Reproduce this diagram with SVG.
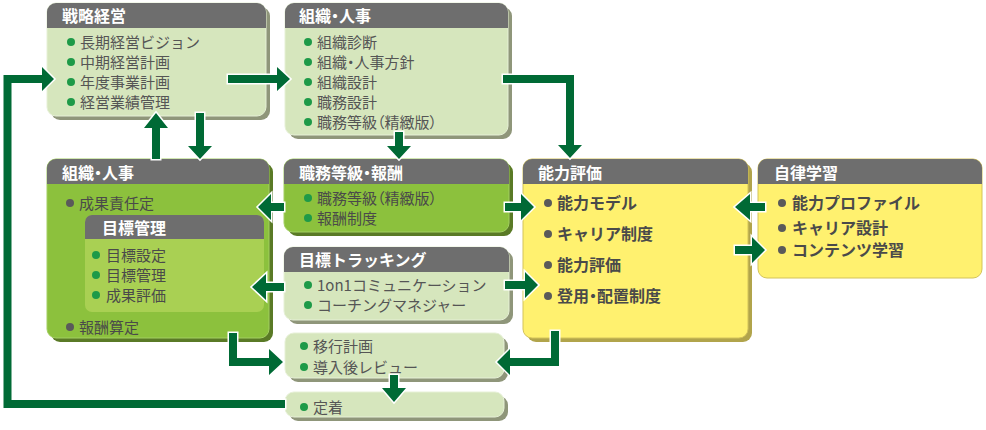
<svg xmlns="http://www.w3.org/2000/svg" width="986" height="430" viewBox="0 0 986 430">
<style>
.hd{fill:#6e6e6e}
.tt{font-family:"Noto Sans CJK JP",sans-serif;font-weight:700;font-size:16px;fill:#fff}
.it{font-family:"Noto Sans CJK JP",sans-serif;font-size:15px;fill:#555}
.itg{font-family:"Noto Sans CJK JP",sans-serif;font-size:15px;fill:#4a4a4a}
.itb{font-family:"Noto Sans CJK JP",sans-serif;font-weight:700;font-size:16px;fill:#4a4a4a}
.pa{font-feature-settings:"palt"}
.bg{fill:#1e9a48}
.bk{fill:#5a5a5a}
.lt{fill:#d6e6bd;stroke:#e6f0d6;stroke-width:1}
.lts{fill:#8f967a}
.gr{fill:#8cc13d;stroke:#a3cf62;stroke-width:1}
.grs{fill:#5a7a26}
.ye{fill:#fff16f;stroke:#d3c35a;stroke-width:1}
.yes{fill:#b1a44b}
.ar{fill:#006a35;stroke:#fff;stroke-width:3;paint-order:stroke;stroke-linejoin:miter}
</style>

<g id="senryaku">
<rect class="lts" x="51" y="7" width="219" height="113" rx="9"/>
<rect class="lt" x="47" y="3" width="219" height="113" rx="9"/>
<path class="hd" d="M47,28 V12 A9,9 0 0 1 56,3 H257 A9,9 0 0 1 266,12 V28 Z"/>
<text class="tt" x="62" y="22">戦略経営</text>
<circle class="bg" cx="71" cy="42" r="4"/><text class="it" x="80" y="47.5">長期経営ビジョン</text>
<circle class="bg" cx="71" cy="62" r="4"/><text class="it" x="80" y="67.5">中期経営計画</text>
<circle class="bg" cx="71" cy="82" r="4"/><text class="it" x="80" y="87.5">年度事業計画</text>
<circle class="bg" cx="71" cy="102" r="4"/><text class="it" x="80" y="107.5">経営業績管理</text>
</g>

<g id="soshiki1">
<rect class="lts" x="289" y="7" width="223" height="132" rx="9"/>
<rect class="lt" x="285" y="3" width="223" height="132" rx="9"/>
<path class="hd" d="M285,28 V12 A9,9 0 0 1 294,3 H499 A9,9 0 0 1 508,12 V28 Z"/>
<text class="tt pa" x="299" y="22">組織・人事</text>
<circle class="bg" cx="308" cy="42" r="4"/><text class="it" x="317" y="47.5">組織診断</text>
<circle class="bg" cx="308" cy="62" r="4"/><text class="it pa" x="317" y="67.5">組織・人事方針</text>
<circle class="bg" cx="308" cy="82" r="4"/><text class="it" x="317" y="87.5">組織設計</text>
<circle class="bg" cx="308" cy="102" r="4"/><text class="it" x="317" y="107.5">職務設計</text>
<circle class="bg" cx="308" cy="122" r="4"/><text class="it pa" x="317" y="127.5">職務等級（精緻版）</text>
</g>

<g id="soshiki2">
<rect class="grs" x="51" y="163" width="222" height="179" rx="9"/>
<rect class="gr" x="47" y="159" width="222" height="179" rx="9"/>
<path class="hd" d="M47,184 V168 A9,9 0 0 1 56,159 H260 A9,9 0 0 1 269,168 V184 Z"/>
<text class="tt pa" x="62" y="179">組織・人事</text>
<circle class="bk" cx="70" cy="203" r="4"/><text class="itg" x="79" y="208.5">成果責任定</text>
<circle class="bk" cx="70" cy="327" r="4"/><text class="itg" x="79" y="332.5">報酬算定</text>
</g>

<g id="mokuhyo-kanri">
<rect x="85" y="215" width="179" height="97" rx="7" fill="#a9d053"/>
<path class="hd" d="M85,239 V222 A7,7 0 0 1 92,215 H257 A7,7 0 0 1 264,222 V239 Z"/>
<text class="tt" x="102" y="234">目標管理</text>
<circle class="bg" cx="96" cy="255" r="4"/><text class="itg" x="106" y="260.5">目標設定</text>
<circle class="bg" cx="96" cy="275" r="4"/><text class="itg" x="106" y="280.5">目標管理</text>
<circle class="bg" cx="96" cy="295" r="4"/><text class="itg" x="106" y="300.5">成果評価</text>
</g>

<g id="shokumu">
<rect class="grs" x="288" y="163" width="225" height="73" rx="9"/>
<rect class="gr" x="284" y="159" width="225" height="73" rx="9"/>
<path class="hd" d="M284,184 V168 A9,9 0 0 1 293,159 H500 A9,9 0 0 1 509,168 V184 Z"/>
<text class="tt pa" x="299" y="179">職務等級・報酬</text>
<circle class="bg" cx="308" cy="198" r="4"/><text class="itg pa" x="317" y="203.5">職務等級（精緻版）</text>
<circle class="bg" cx="308" cy="218" r="4"/><text class="itg" x="317" y="223.5">報酬制度</text>
</g>

<g id="tracking">
<rect class="lts" x="288" y="251" width="225" height="73" rx="9"/>
<rect class="lt" x="284" y="247" width="225" height="73" rx="9"/>
<path class="hd" d="M284,272 V256 A9,9 0 0 1 293,247 H500 A9,9 0 0 1 509,256 V272 Z"/>
<text class="tt" x="299" y="266">目標トラッキング</text>
<circle class="bg" cx="308" cy="285" r="4"/><text class="it" x="317" y="290.5">1on1コミュニケーション</text>
<circle class="bg" cx="308" cy="305" r="4"/><text class="it" x="317" y="310.5">コーチングマネジャー</text>
</g>

<g id="noryoku">
<rect class="yes" x="527" y="163" width="225" height="179" rx="9"/>
<rect class="ye" x="523" y="159" width="225" height="179" rx="9"/>
<path class="hd" d="M523,184 V168 A9,9 0 0 1 532,159 H739 A9,9 0 0 1 748,168 V184 Z"/>
<text class="tt" x="538" y="179">能力評価</text>
<circle class="bk" cx="548" cy="203" r="4"/><text class="itb" x="557" y="209">能力モデル</text>
<circle class="bk" cx="548" cy="234" r="4"/><text class="itb" x="557" y="240">キャリア制度</text>
<circle class="bk" cx="548" cy="265" r="4"/><text class="itb" x="557" y="271">能力評価</text>
<circle class="bk" cx="548" cy="296" r="4"/><text class="itb pa" x="557" y="302">登用・配置制度</text>
</g>

<g id="jiritsu">
<rect class="ye" x="758" y="159" width="224" height="119" rx="9"/>
<path class="hd" d="M758,184 V168 A9,9 0 0 1 767,159 H973 A9,9 0 0 1 982,168 V184 Z"/>
<text class="tt" x="774" y="179">自律学習</text>
<circle class="bk" cx="782" cy="203" r="4"/><text class="itb" x="792" y="209">能力プロファイル</text>
<circle class="bk" cx="782" cy="228" r="4"/><text class="itb" x="792" y="234">キャリア設計</text>
<circle class="bk" cx="782" cy="250" r="4"/><text class="itb" x="792" y="256">コンテンツ学習</text>
</g>

<g id="ikou">
<rect class="lts" x="289" y="337" width="219" height="45" rx="9"/>
<rect class="lt" x="285" y="333" width="219" height="45" rx="9"/>
<circle class="bg" cx="304" cy="346" r="4"/><text class="it" x="313" y="351.5">移行計画</text>
<circle class="bg" cx="304" cy="367" r="4"/><text class="it" x="313" y="372.5">導入後レビュー</text>
</g>

<g id="teichaku">
<rect class="lts" x="289" y="396" width="219" height="25" rx="9"/>
<rect class="lt" x="285" y="392" width="219" height="25" rx="9"/>
<circle class="bg" cx="304" cy="407" r="4"/><text class="it" x="313" y="412.5">定着</text>
</g>

<g id="connectors">
<polygon class="ar" points="285,400 11.5,400 11.5,83 42,83 42,91 54,79 42,67 42,75 3.5,75 3.5,408 285,408"/>
<polygon class="ar" points="228,75 277,75 277,67 290,79 277,91 277,83 228,83"/>
<polygon class="ar" points="152,159 152,128 144,128 156,113 168,128 160,128 160,159"/>
<polygon class="ar" points="196,113 196,146 188,146 200,159 212,146 204,146 204,113"/>
<polygon class="ar" points="395,132 395,146 387,146 399,159 411,146 403,146 403,132"/>
<polygon class="ar" points="503,75 574,75 574,145 582,145 570,158 558,145 566,145 566,83 503,83"/>
<polygon class="ar" points="284,203 271,203 271,194 258,207 271,220 271,211 284,211"/>
<polygon class="ar" points="284,283 266,283 266,274 252,287 266,300 266,291 284,291"/>
<polygon class="ar" points="505,203 521,203 521,194 534,207 521,220 521,211 505,211"/>
<polygon class="ar" points="505,281 525,281 525,272 538,285 525,298 525,289 505,289"/>
<polygon class="ar" points="765,203 750,203 750,194 735,207 750,220 750,211 765,211"/>
<polygon class="ar" points="735,246 752,246 752,237 765,250 752,263 752,254 735,254"/>
<polygon class="ar" points="551,331 551,358 510,358 510,349 497,362 510,375 510,366 559,366 559,331"/>
<polygon class="ar" points="229,333 229,366 269,366 269,375 283,362 269,349 269,358 237,358 237,333"/>
<polygon class="ar" points="390,375 390,388 382,388 394,402 406,388 398,388 398,375"/>
</g>
</svg>
